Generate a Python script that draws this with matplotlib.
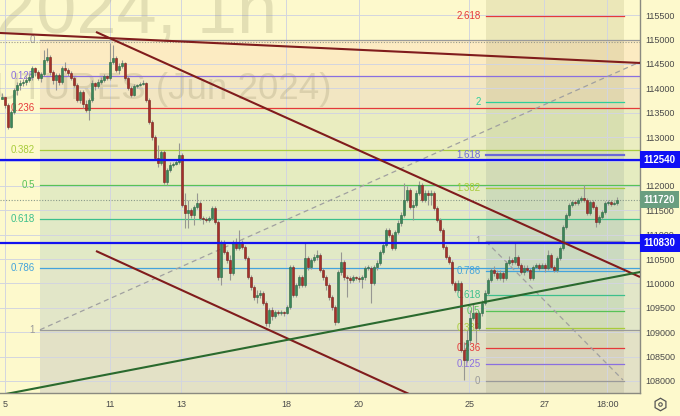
import matplotlib
matplotlib.use("Agg")
import matplotlib.pyplot as plt
import numpy as np
from matplotlib.lines import Line2D
from matplotlib.transforms import blended_transform_factory

# ---------------- data ----------------
closes = [113820,113660,113210,113520,113970,114070,114110,114130,114170,114230,
          114420,114330,114210,114290,114580,114640,114330,114170,114270,114130,
          114420,114380,114310,114210,114070,113760,113920,113680,113560,113760,
          114110,114050,114130,114170,114250,114210,114540,114620,114380,114460,
          114520,114210,114010,113860,114050,114070,114090,114110,113760,113310,
          113000,112570,112470,112700,112080,112330,112430,112450,112490,112630,
          111610,111440,111510,111400,111570,111650,111340,111320,111300,111340,
          111550,111260,110130,110850,110640,110480,110210,110830,110730,110850,
          110750,110520,110130,109930,109720,109760,109800,109600,109190,109460,
          109330,109410,109390,109410,109390,109520,110340,109760,109970,110130,
          109970,110520,110340,110480,110540,110580,110280,110130,109970,109720,
          109520,109210,110230,110440,110130,110110,110070,110130,110110,110090,
          110130,110320,110320,110010,110340,110420,110640,110790,111100,110990,
          110730,111050,111240,111400,111710,111920,111570,111610,111860,112020,
          111710,111860,111810,111860,111550,111300,111100,110750,110540,110440,
          110010,109870,110010,108640,108430,108840,109290,109390,109090,109390,
          109600,109800,110070,110280,110210,110110,110210,110110,110420,110480,
          110440,110540,110380,110230,110320,110280,110110,110340,110380,110320,
          110380,110320,110580,110340,110280,110520,110730,111160,111400,111610,
          111670,111650,111710,111750,111710,111440,111670,111570,111260,111360,
          111460,111650,111670,111630,111650,111720]
highs = [113900,113800,113700,113560,114010,114130,114170,114190,114250,114290,
         114460,114440,114380,114330,114790,114830,114680,114380,114310,114310,
         114460,114540,114420,114350,114250,114110,113970,113970,113760,113800,
         114170,114130,114190,114230,114290,114270,114930,114890,114660,114520,
         114580,114540,114250,114050,114090,114090,114130,114170,114130,113800,
         113350,113040,112840,112740,112740,112370,112490,112490,112530,112880,
         112680,111860,111710,111550,111610,111860,111690,111380,111360,111380,
         111590,111590,111300,110890,110890,110690,110580,110890,110930,111100,
         110890,110790,110560,110170,109970,109870,109870,109850,109640,109500,
         109520,109460,109460,109460,109440,109560,110380,110380,110010,110170,
         110170,110850,110560,110520,110600,110690,110620,110320,110170,110010,
         109760,109560,110280,110640,110480,110170,110150,110170,110150,110150,
         110170,110360,110380,110360,110380,110480,110690,110830,111140,111140,
         111030,111100,111300,111460,112060,112000,111960,111710,111920,112100,
         112060,111920,111920,111920,111900,111590,111340,111140,110790,110580,
         110480,110050,110070,110050,108800,109050,109460,109600,109440,109440,
         109660,109870,110110,110320,110360,110280,110280,110250,110460,110560,
         110520,110850,110580,110420,110380,110380,110320,110380,110420,110420,
         110420,110420,110690,110620,110380,110560,110770,111200,111440,111650,
         111710,111710,111750,111790,112020,111750,111710,111710,111610,111400,
         111510,111690,111710,111710,111690,111770]
lows = [113780,113600,113170,113190,113470,113860,113970,114050,114070,114130,
        114170,114250,114170,114130,114250,114540,114270,114090,113970,114070,
        114090,114330,114250,114170,114030,113720,113700,113600,113520,113350,
        113720,113970,114010,114090,114130,114170,114170,114500,114330,114290,
        114420,114170,113970,113820,113840,114010,114050,114070,113720,113270,
        112940,112530,112390,112430,112040,112020,112290,112390,112430,112450,
        111570,111140,111140,111340,111200,111530,111300,111220,111260,111260,
        111300,111220,110070,109970,110600,110420,110070,110170,110690,110690,
        110710,110480,110090,109870,109660,109600,109700,109560,109130,109110,
        109250,109290,109350,109350,109330,109370,109480,109720,109720,109910,
        109930,109930,110280,110300,110440,110480,110230,110070,109870,109660,
        109460,109150,109190,110170,110070,109720,110010,110030,110070,110030,
        109910,110070,110280,109600,109970,110280,110380,110600,110750,110950,
        110690,110690,111010,111180,111360,111670,111530,111300,111570,111810,
        111670,111670,111610,111610,111510,111260,111050,110710,110500,110400,
        109970,109820,109820,108600,108020,108390,108780,109250,108780,109050,
        109330,109560,109760,110030,110150,110070,110070,110030,110070,110380,
        110380,110400,110320,110190,110170,110230,110070,110070,110320,110280,
        110320,110230,110280,110300,110230,110230,110480,110690,111120,111360,
        111570,111610,111610,111670,111670,111400,111400,111530,111160,111220,
        111320,111420,111610,111590,111610,111610]
first_open = 113780
opens = [first_open] + closes[:-1]

x_tick_pos = [1.0, 36.0, 59.7, 94.7, 119.0, 155.7, 180.7, 201.7]
x_tick_labels = ["5", "11", "13", "18", "20", "25", "27", "18:00"]
y_ticks = list(range(108000, 115501, 500))

# Fibonacci retracement 1
fib1_start = 12.67
fib1_zero = 115000
fib1_one = 109050
fib1_ratios = [0, 0.125, 0.236, 0.382, 0.5, 0.618, 0.786, 1]
# Fibonacci 2
fib2_start, fib2_end = 161.33, 207.33
fib2_zero = 108000
fib2_one = 110860
fib2_ratios = [0, 0.125, 0.236, 0.382, 0.5, 0.618, 0.786, 1, 1.382, 1.618, 2, 2.618]

fib_colors = {0: '#9a9a9a', 0.125: '#8a6fe0', 0.236: '#e5393a', 0.382: '#a8cc3a',
              0.5: '#57c257', 0.618: '#3dbf8c', 0.786: '#43a3dc', 1: '#9a9a9a',
              1.382: '#a8cc3a', 1.618: '#6a68d8', 2: '#2ccf9a', 2.618: '#e5393a'}

# trend lines (index, price)
trend_red = [((-0.67, 115134), (212.67, 114519)),
             ((31.33, 115155), (212.67, 110132)),
             ((31.33, 110665), (139.33, 107631))]
trend_green = ((-0.67, 107710), (212.67, 110234))
dashed_lines = [((12.67, 109050), (212.67, 114540)),
                ((161.33, 110860), (207.0, 108020))]

blue_levels = [112540, 110830]
last_price = 111720
dotted_high = 114950

# ---------------- figure ----------------
BG = '#fdf9cc'
fig = plt.figure(figsize=(6.8, 4.16), dpi=100, facecolor=BG)
ax = fig.add_axes([0, 23/416, 640/680, 393/416])
ax.set_facecolor(BG)
XL = (-0.667, 212.667)
YL = (107754, 115810)
ax.set_xlim(*XL)
ax.set_ylim(*YL)

# fib1 bands
f1 = [fib1_zero - r*(fib1_zero - fib1_one) for r in fib1_ratios]
band1_cols = ['#fcebc2', '#f2e6c2', '#eaedc0', '#e5ecc0', '#e3ebc3', '#e1e9c6', '#e2e6c8']
for i in range(len(f1)-1):
    ax.fill_between([fib1_start, XL[1]], f1[i+1], f1[i], color=band1_cols[i], lw=0, zorder=0.1)
ax.fill_between([fib1_start, XL[1]], YL[0], f1[-1], color='#e3e1c6', lw=0, zorder=0.1)

# fib2 bands (semi-transparent overlay)
f2 = [fib2_zero + r*(fib2_one - fib2_zero) for r in fib2_ratios]
band2_cols = ['#a08060', '#907878', '#909050', '#70a050', '#50a070', '#50a090',
              '#4a80a0', '#4a7a8a', '#607880', '#709050', '#808040']
for i in range(len(f2)-1):
    ax.fill_between([fib2_start, fib2_end], f2[i], f2[i+1], color=band2_cols[i], alpha=0.14, lw=0, zorder=0.2)
ax.fill_between([fib2_start, fib2_end], f2[-1], YL[1], color='#808040', alpha=0.14, lw=0, zorder=0.2)
ax.fill_between([fib2_start, fib2_end], YL[0], f2[0], color='#808060', alpha=0.14, lw=0, zorder=0.2)

# grid
for yv in y_ticks:
    ax.axhline(yv, color='#d3d5df', lw=0.7, zorder=0.5)
for xv in x_tick_pos:
    ax.axvline(xv, color='#d3d5df', lw=0.7, zorder=0.5)

# watermark
ax.text(277/680, 1 - 33/416, "2024, 1h", transform=fig.transFigure, ha='right', va='baseline',
        fontsize=52, family='Liberation Sans', color='#8a8660', alpha=0.22, zorder=0.8, clip_on=False)
ax.text(332/680, 1 - 99/416, "FUTURES (Jun 2024)", transform=fig.transFigure, ha='right', va='baseline',
        fontsize=26.5, family='Liberation Sans', color='#8a8660', alpha=0.22, zorder=0.8, clip_on=False)

# fib1 lines & labels
for r, p in zip(fib1_ratios, f1):
    ax.plot([fib1_start, XL[1]], [p, p], color=fib_colors[r], lw=0.9, zorder=2)
    ax.text(10.9, p, f"{r:g}", ha='right', va='center', fontsize=7, family='Liberation Sans',
            color=fib_colors[r], zorder=2)
# fib2 lines & labels
for r, p in zip(fib2_ratios, f2):
    lw = 1.6 if r == 1.618 else 0.9
    ax.plot([fib2_start, fib2_end], [p, p], color=fib_colors[r], lw=lw, zorder=2)
    ax.text(159.5, p, f"{r:g}", ha='right', va='center', fontsize=7, family='Liberation Sans',
            color=fib_colors[r], zorder=2)

# dotted lines
ax.axhline(dotted_high, color='#9a9a8a', lw=0.8, ls=(0, (1, 1.5)), zorder=2)
ax.axhline(last_price, color='#8a9a8a', lw=0.8, ls=(0, (1, 1.5)), zorder=2)

# dashed fib trend lines
for (a, b) in dashed_lines:
    ax.plot([a[0], b[0]], [a[1], b[1]], color='#a0a0a0', lw=0.9, ls=(0, (4, 3)), zorder=2)

# candles
idx = np.arange(len(closes))
o = np.array(opens); c = np.array(closes); h = np.array(highs); l = np.array(lows)
hi = np.maximum(h, np.maximum(o, c)); lo = np.minimum(l, np.minimum(o, c))
ax.vlines(idx, lo, hi, color='#979792', lw=0.8, zorder=3)
up = c >= o
body_lo = np.minimum(o, c)
body_h = np.maximum(np.abs(c - o), 15)
ax.bar(idx[up], body_h[up], bottom=body_lo[up], width=0.72, color='#3b8659',
       edgecolor='#2b6644', lw=0.4, zorder=3.1)
ax.bar(idx[~up], body_h[~up], bottom=body_lo[~up], width=0.72, color='#a6302a',
       edgecolor='#74201b', lw=0.4, zorder=3.1)

# blue horizontal levels
for p in blue_levels:
    ax.axhline(p, color='#1212f0', lw=1.6, zorder=4)

# trend lines
for (a, b) in trend_red:
    ax.plot([a[0], b[0]], [a[1], b[1]], color='#801c1c', lw=1.5, zorder=4, solid_capstyle='butt')
ax.plot([trend_green[0][0], trend_green[1][0]], [trend_green[0][1], trend_green[1][1]],
        color='#2a6a2e', lw=1.5, zorder=4)

# axes styling
for s in ['top', 'left']:
    ax.spines[s].set_visible(False)
for s in ['right', 'bottom']:
    ax.spines[s].set_color('#8a8a80')
    ax.spines[s].set_linewidth(1.0)
ax.yaxis.tick_right()
ax.set_yticks(y_ticks)
ax.set_yticklabels([str(v) for v in y_ticks])
ax.set_xticks(x_tick_pos)
ax.set_xticklabels(x_tick_labels)
ax.tick_params(axis='both', length=0, labelsize=6.5, colors='#4a4a4a')
ax.tick_params(axis='y', pad=4)
ax.tick_params(axis='x', pad=5)
for t in ax.get_xticklabels() + ax.get_yticklabels():
    t.set_family('Liberation Sans')

# price labels on right axis
tr = blended_transform_factory(ax.transAxes, ax.transData)
for p, col in [(blue_levels[0], '#1010f5'), (last_price, '#6a9e80'), (blue_levels[1], '#1010f5')]:
    ax.text(1.006, p, str(p), transform=tr, ha='left', va='center', fontsize=7,
            family='Liberation Sans', fontweight='bold', color='white', clip_on=False, zorder=6,
            bbox=dict(boxstyle='square,pad=0.4', fc=col, ec='none'))

# settings icon
fig.add_artist(Line2D([660/680], [1 - 404/416], marker='h', markersize=9, mfc='none',
                      mec='#555555', mew=0.9, transform=fig.transFigure))
fig.add_artist(Line2D([660/680], [1 - 404/416], marker='o', markersize=2.5, mfc='none',
                      mec='#555555', mew=0.8, transform=fig.transFigure))

fig.savefig("out.png", dpi=100, facecolor=BG)
